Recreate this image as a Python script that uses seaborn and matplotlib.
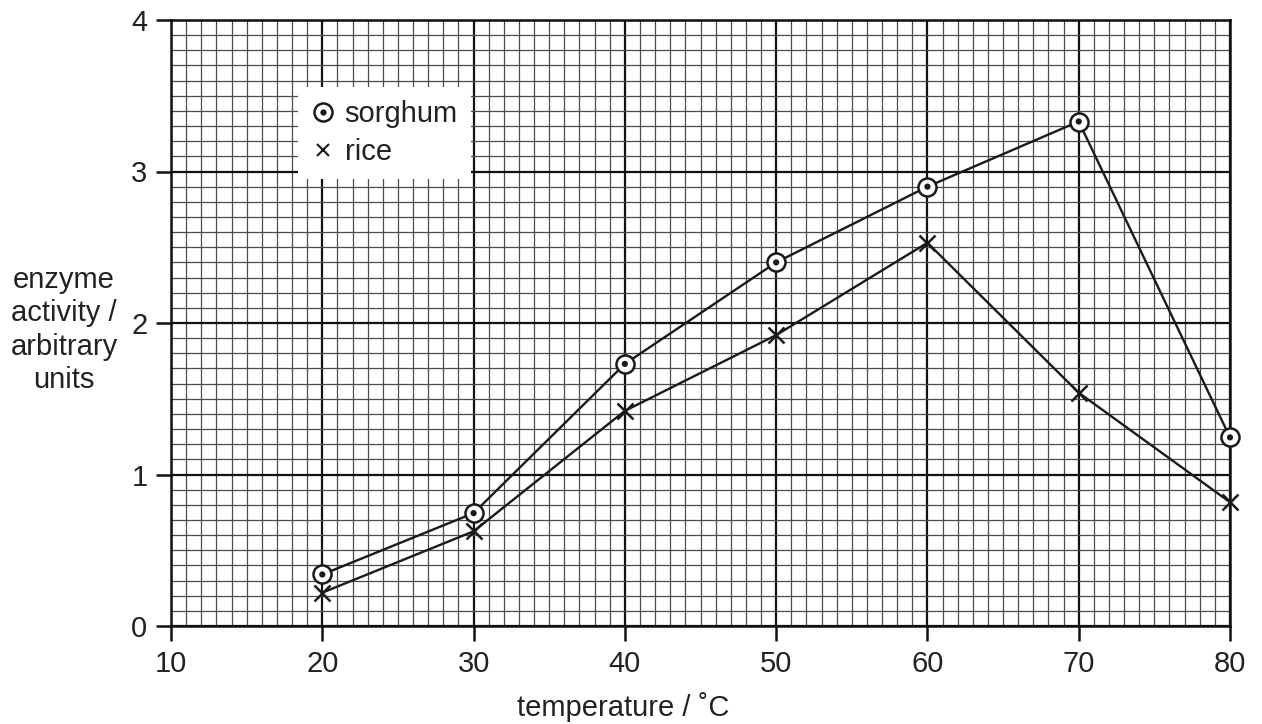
import matplotlib
matplotlib.use("Agg")
import matplotlib.pyplot as plt
from matplotlib.lines import Line2D
from matplotlib.legend_handler import HandlerTuple
from matplotlib.ticker import MultipleLocator
import seaborn as sns
import pandas as pd

temperature = [20, 30, 40, 50, 60, 70, 80]
sorghum = [0.34, 0.745, 1.73, 2.40, 2.90, 3.33, 1.245]
rice = [0.22, 0.625, 1.42, 1.92, 2.53, 1.54, 0.817]
x_ticks = [10, 20, 30, 40, 50, 60, 70, 80]
y_ticks = [0, 1, 2, 3, 4]

sns.set_style("ticks")
plt.rcParams['font.family'] = ['Liberation Sans', 'DejaVu Sans']

df = pd.DataFrame({"temperature": temperature, "sorghum": sorghum, "rice": rice})

fig = plt.figure(figsize=(12.62, 7.24), dpi=100)
ax = fig.add_axes([171/1262, 1-626/724, (1230-171)/1262, (626-20)/724])

ax.set_xlim(10, 80)
ax.set_ylim(0, 4)
ax.xaxis.set_major_locator(MultipleLocator(10))
ax.yaxis.set_major_locator(MultipleLocator(1))
ax.xaxis.set_minor_locator(MultipleLocator(1))
ax.yaxis.set_minor_locator(MultipleLocator(0.1))
ax.grid(which='minor', color='#4a4a4a', linewidth=0.9, zorder=0)
ax.grid(which='major', color='#111111', linewidth=1.6, zorder=0)
ax.set_axisbelow(True)
ax.tick_params(which='minor', length=0)
ax.tick_params(which='major', length=11, width=1.8, color='#111111',
               labelsize=21, labelcolor='#222222', direction='out')
ax.tick_params(axis='x', which='major', pad=6)
ax.tick_params(axis='y', which='major', pad=6)
ax.set_xticks(x_ticks)
ax.set_yticks(y_ticks)
for s in ax.spines.values():
    s.set_linewidth(1.8)
    s.set_color('#111111')

sns.lineplot(data=df, x="temperature", y="sorghum", ax=ax, color='#1a1a1a',
             linewidth=1.7, marker='o', markersize=13, markerfacecolor='white',
             markeredgecolor='#1a1a1a', markeredgewidth=1.8, zorder=3, clip_on=False)
sns.scatterplot(data=df, x="temperature", y="sorghum", ax=ax, color='#1a1a1a',
                s=20, edgecolor='none', zorder=4, clip_on=False)
sns.lineplot(data=df, x="temperature", y="rice", ax=ax, color='#1a1a1a',
             linewidth=1.7, marker='x', markersize=11, markeredgewidth=1.8,
             markeredgecolor='#1a1a1a', zorder=3, clip_on=False)

ax.set_xlabel("")
ax.set_ylabel("")

h_circ = Line2D([], [], linestyle='none', marker='o', markersize=13,
                markerfacecolor='white', markeredgecolor='#1a1a1a', markeredgewidth=1.8)
h_dot = Line2D([], [], linestyle='none', marker='o', markersize=4.5,
               markerfacecolor='#1a1a1a', markeredgecolor='none')
h_x = Line2D([], [], linestyle='none', marker='x', markersize=9,
             markeredgecolor='#1a1a1a', markeredgewidth=1.5)
leg = ax.legend([(h_circ, h_dot), h_x], ["sorghum", "rice"],
                handler_map={tuple: HandlerTuple(ndivide=1, pad=0)},
                loc='upper left', bbox_to_anchor=((298-171)/1059, (626-87)/606),
                borderaxespad=0, fontsize=21, frameon=True, fancybox=False,
                framealpha=1, facecolor='white', edgecolor='none',
                handlelength=0.8, handletextpad=0.35, labelspacing=0.33,
                borderpad=0.45)
for t in leg.get_texts():
    t.set_color('#222222')
leg.set_zorder(5)

fig.text(623/1262, 1-716/724, "temperature / ˚C", ha='center', va='baseline',
         fontsize=21, color='#222222')
fig.text(64/1262, 1-330/724, "enzyme\nactivity /\narbitrary\nunits", ha='center',
         va='center', fontsize=21, color='#222222', linespacing=1.23)

fig.savefig("out.png", dpi=100)
